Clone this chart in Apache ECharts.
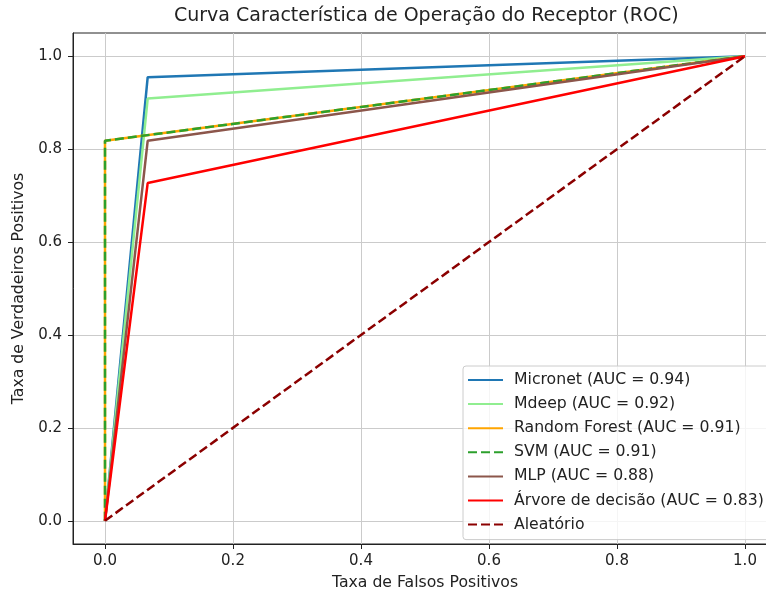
<!DOCTYPE html>
<html>
<head>
<meta charset="utf-8">
<script src="https://cdn.jsdelivr.net/npm/echarts@6/dist/echarts.min.js"></script>
<style>
  html, body { margin: 0; padding: 0; background: #fff; overflow: hidden; }
  /* o eixo da figura original passa da borda direita, por isso o div é mais largo que a janela */
  #roc { width: 777px; height: 596px; }
</style>
</head>
<body>
<div id="roc"></div>
<script>
// dados (FPR / TPR de cada modelo)
const modelNames = [
  'Micronet (AUC = 0.94)',
  'Mdeep (AUC = 0.92)',
  'Random Forest (AUC = 0.91)',
  'SVM (AUC = 0.91)',
  'MLP (AUC = 0.88)',
  'Árvore de decisão (AUC = 0.83)',
  'Aleatório',
]
const fprMicronet = [0, 0.0667, 1]
const tprMicronet = [0, 0.955, 1]
const fprMdeep = [0, 0.0667, 1]
const tprMdeep = [0, 0.909, 1]
const fprRandomForest = [0, 0, 1]
const tprRandomForest = [0, 0.818, 1]
const fprSvm = [0, 0, 1]
const tprSvm = [0, 0.818, 1]
const fprMlp = [0, 0.0667, 1]
const tprMlp = [0, 0.818, 1]
const fprArvore = [0, 0.0667, 1]
const tprArvore = [0, 0.727, 1]
const fprAleatorio = [0, 1]
const tprAleatorio = [0, 1]
const axisTicks = [0, 0.2, 0.4, 0.6, 0.8, 1.0]

const colors = ['#1f77b4', '#90ee90', '#ffa500', '#2ca02c', '#8c564b', '#ff0000', '#8b0000']
const dashed = [false, false, false, true, false, false, true]
const curves = [
  [fprMicronet, tprMicronet],
  [fprMdeep, tprMdeep],
  [fprRandomForest, tprRandomForest],
  [fprSvm, tprSvm],
  [fprMlp, tprMlp],
  [fprArvore, tprArvore],
  [fprAleatorio, tprAleatorio],
]

const font = 'DejaVu Sans'
const textColor = '#222'

const series = curves.map((item, i) => {
  return {
    name: modelNames[i],
    type: 'line',
    symbol: 'none',
    data: item[0].map((x, j) => [x, item[1][j]]),
    lineStyle: {
      color: colors[i],
      width: 2.5,
      type: dashed[i] ? [9, 4] : 'solid',
    },
    itemStyle: { color: colors[i] },
  }
})

function valueAxis(name, nameGap, labelMargin) {
  return {
    type: 'value',
    min: -0.05,
    max: 1.05,
    splitNumber: 5,
    name: name,
    nameLocation: 'middle',
    nameGap: nameGap,
    nameTextStyle: { fontFamily: font, fontSize: 15.7, color: textColor },
    axisLine: { show: true, onZero: false, lineStyle: { color: '#222', width: 1 } },
    axisTick: { show: true, length: 5, customValues: axisTicks, lineStyle: { color: '#222' } },
    axisLabel: {
      margin: labelMargin,
      fontFamily: font,
      fontSize: 15,
      color: textColor,
      customValues: axisTicks,
      formatter: (v) => v.toFixed(1),
    },
    splitLine: { show: true, lineStyle: { color: '#cbcbcb', width: 1 } },
  }
}

const chart = echarts.init(document.getElementById('roc'), null, { renderer: 'canvas' })
const option = {
  animation: false,
  backgroundColor: '#fff',
  title: {
    text: 'Curva Característica de Operação do Receptor (ROC)',
    left: 174,
    top: 7,
    padding: 0,
    textStyle: { fontFamily: font, fontSize: 19, fontWeight: 'normal', color: textColor },
  },
  grid: {
    left: 73,
    right: 0,
    top: 33,
    bottom: 49,
    show: true,
    borderColor: '#222',
    borderWidth: 1,
    backgroundColor: 'transparent',
  },
  xAxis: valueAxis('Taxa de Falsos Positivos', 31, 10),
  yAxis: valueAxis('Taxa de Verdadeiros Positivos', 44, 11),
  legend: {
    orient: 'vertical',
    left: 463,
    top: 366,
    itemWidth: 35,
    itemHeight: 14,
    itemGap: 8.1,
    padding: [6, 20, 7, 4],
    backgroundColor: 'rgba(255,255,255,0.8)',
    borderColor: '#cccccc',
    borderWidth: 1,
    borderRadius: 3,
    itemStyle: { opacity: 0 },
    textStyle: { fontFamily: font, fontSize: 15.7, lineHeight: 16, color: textColor, padding: [0, 0, 0, 6] },
    data: modelNames,
  },
  series: series,
}
chart.setOption(option)
</script>
</body>
</html>
